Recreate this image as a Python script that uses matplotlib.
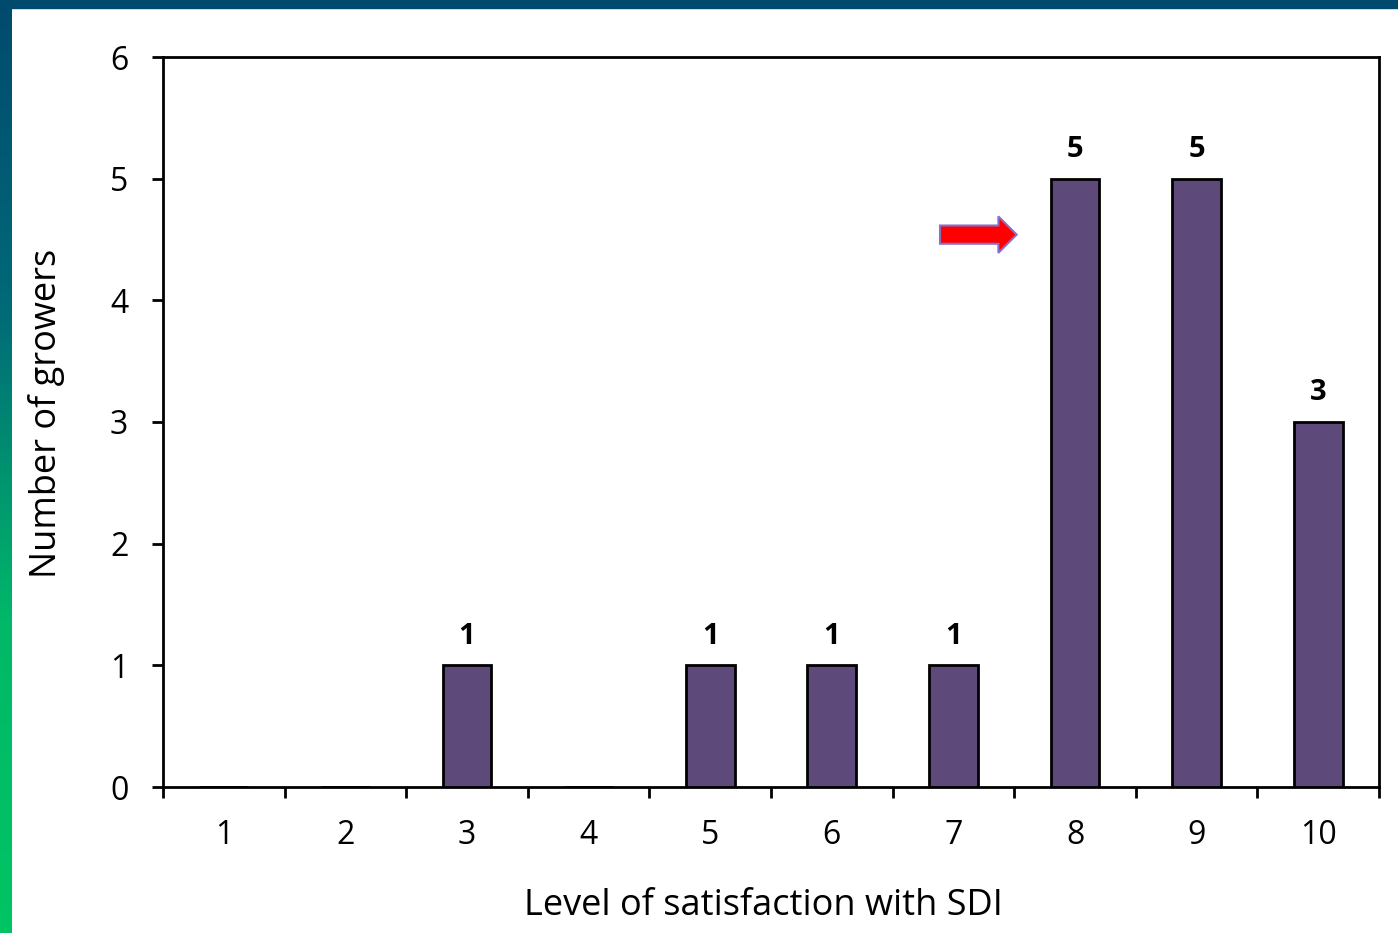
import numpy as np
import matplotlib.pyplot as plt
from matplotlib.patches import FancyArrow
from matplotlib.colors import LinearSegmentedColormap

# satisfaction levels and number of growers
levels = ['1', '2', '3', '4', '5', '6', '7', '8', '9', '10']
growers = [0, 0, 1, 0, 1, 1, 1, 5, 5, 3]

plt.rcParams['font.family'] = ['Open Sans', 'DejaVu Sans']

fig = plt.figure(figsize=(13.98, 9.33), dpi=100)

# slide background: dark blue strip on top, blue->green strip on the left
bg = fig.add_axes([0, 0, 1, 1])
cmap = LinearSegmentedColormap.from_list('side', ['#004a6e', '#006a78', '#00b868', '#00c464'])
grad = np.linspace(0, 1, 256).reshape(-1, 1)
bg.imshow(grad, cmap=cmap, extent=[0, 12, 933, 0], aspect='auto')
bg.fill_between([0, 1398], 0, 8, color='#004a6e')
bg.set_xlim(0, 1398)
bg.set_ylim(933, 0)
bg.axis('off')

ax = fig.add_axes([163/1398, 1 - 787/933, (1379 - 163)/1398, (787 - 57)/933])
x = np.arange(1, len(levels) + 1)
ax.bar(x, growers, width=0.4, color='#5e4a7a', edgecolor='black', linewidth=2, zorder=3)

for xi, v in zip(x, growers):
    if v > 0:
        ax.text(xi, v + 0.12, str(v), ha='center', va='bottom', fontsize=21, fontweight='bold')

ax.set_xlim(0.5, 10.5)
ax.set_ylim(0, 6)
ax.set_yticks(range(0, 7))
ax.set_xticks(x)
ax.set_xticklabels(levels)
ax.set_xticks(np.arange(0.5, 11, 1), minor=True)
ax.tick_params(axis='x', which='major', length=0, pad=23, labelsize=23)
ax.tick_params(axis='x', which='minor', length=8, width=2, direction='out')
ax.tick_params(axis='y', length=8, width=2, direction='out', pad=17, labelsize=23)
for s in ax.spines.values():
    s.set_linewidth(2)

ax.set_xlabel('Level of satisfaction with SDI', fontsize=26)
ax.set_ylabel('Number of growers', fontsize=26)
ax.xaxis.set_label_coords(0.494, -0.138)
ax.yaxis.set_label_coords(-0.081, 0.512)

# red arrow pointing at the level 8 bar
arrow = FancyArrow(6.89, 4.54, 0.63, 0, width=0.15, head_width=0.3, head_length=0.15,
                   length_includes_head=True, facecolor='#ff0000', edgecolor='#8a6fc8',
                   linewidth=1.5, zorder=4)
ax.add_patch(arrow)

fig.savefig('out.png', dpi=100, facecolor='white')
